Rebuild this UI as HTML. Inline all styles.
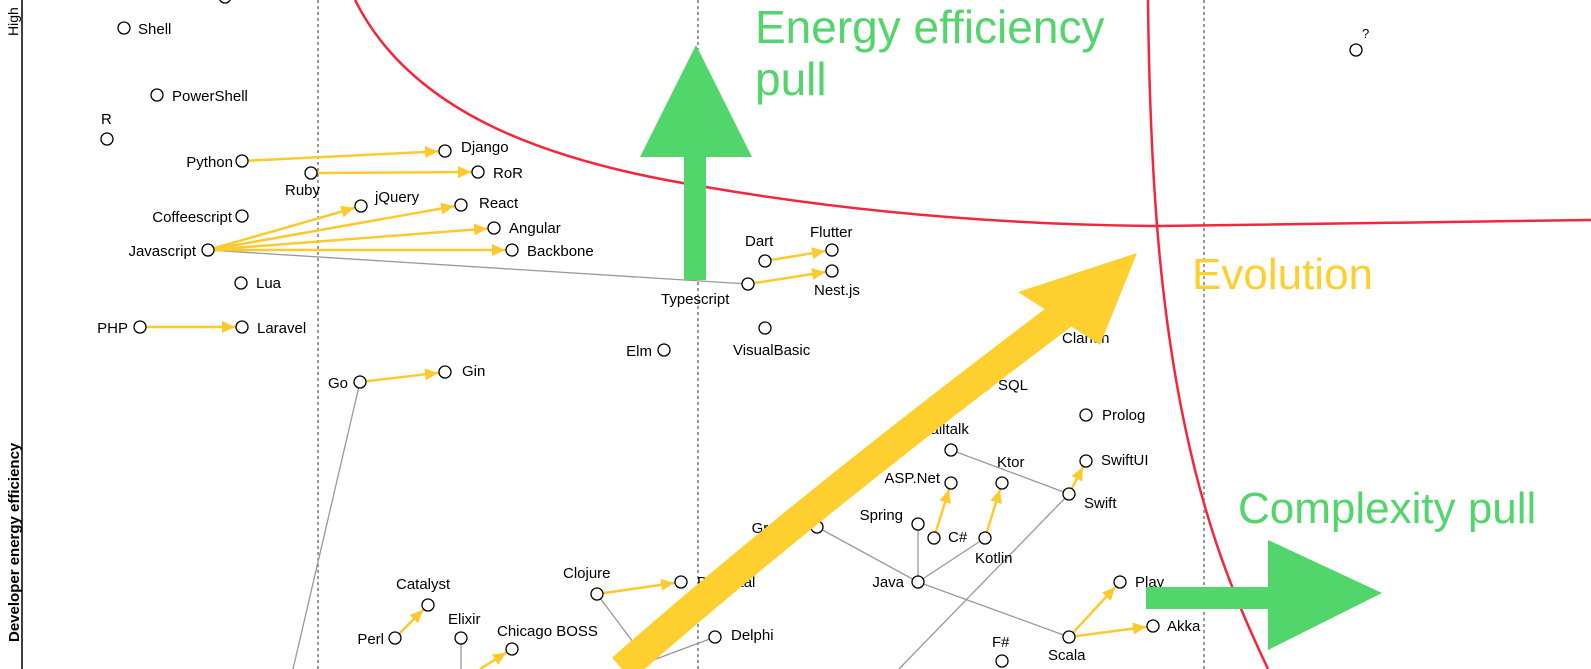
<!DOCTYPE html>
<html><head><meta charset="utf-8"><style>
html,body{margin:0;padding:0;background:#fff;}
svg{display:block;font-family:"Liberation Sans",Arial,sans-serif;}
</style></head><body>
<svg width="1591" height="669" viewBox="0 0 1591 669" xmlns="http://www.w3.org/2000/svg">
<defs>
<marker id="ah" markerUnits="userSpaceOnUse" markerWidth="30" markerHeight="14" refX="20" refY="6" orient="auto">
<path d="M0,0 L13,6 L0,12 z" fill="#fcca2f"/>
</marker>
</defs>
<line x1="22" y1="0" x2="22" y2="669" stroke="#000" stroke-width="1.5"/>
<text transform="translate(18,36) rotate(-90)" font-size="14">High</text>
<text transform="translate(19,642) rotate(-90)" font-size="15" font-weight="bold">Developer energy efficiency</text>
<g stroke="#333" stroke-width="1" stroke-dasharray="3,3">
<line x1="318" y1="0" x2="318" y2="669"/>
<line x1="698" y1="0" x2="698" y2="669"/>
<line x1="1204" y1="0" x2="1204" y2="669"/>
</g>
<g fill="none" stroke="#f4263b" stroke-width="2.5">
<path d="M355,0 C410,110 540,160 700,186 C850,212 1000,225 1160,226 L1591,220"/>
<path d="M1148,0 C1150,180 1160,330 1195,470 C1215,550 1240,610 1268,669"/>
</g>
<g stroke="#999" stroke-width="1.3" fill="none">
<line x1="208" y1="250" x2="748" y2="284"/>
<line x1="360" y1="382" x2="293" y2="669"/>
<line x1="951" y1="450" x2="1069" y2="494"/>
<line x1="1069" y1="494" x2="899" y2="669"/>
<line x1="817" y1="527" x2="918" y2="582"/>
<line x1="918" y1="524" x2="918" y2="582"/>
<line x1="918" y1="582" x2="985" y2="538"/>
<line x1="918" y1="582" x2="1069" y2="637"/>
<line x1="597" y1="594" x2="648" y2="662"/>
<line x1="648" y1="662" x2="715" y2="637"/>
<line x1="461" y1="638" x2="461" y2="669"/>
</g>
<g stroke="#fcca2f" stroke-width="2.5" marker-end="url(#ah)">
<line x1="242" y1="161" x2="445" y2="151"/>
<line x1="311" y1="173" x2="478" y2="172"/>
<line x1="208" y1="250" x2="361" y2="206"/>
<line x1="208" y1="250" x2="461" y2="205"/>
<line x1="208" y1="250" x2="494" y2="228"/>
<line x1="208" y1="250" x2="512" y2="250"/>
<line x1="140" y1="327" x2="242" y2="327"/>
<line x1="360" y1="382" x2="445" y2="372"/>
<line x1="765" y1="261" x2="832" y2="250"/>
<line x1="748" y1="284" x2="832" y2="271"/>
<line x1="597" y1="594" x2="681" y2="582"/>
<line x1="395" y1="638" x2="428" y2="605"/>
<line x1="480" y1="669" x2="512" y2="649"/>
<line x1="934" y1="538" x2="951" y2="483"/>
<line x1="985" y1="538" x2="1002" y2="483"/>
<line x1="1069" y1="494" x2="1086" y2="461"/>
<line x1="1069" y1="637" x2="1120" y2="582"/>
<line x1="1069" y1="637" x2="1153" y2="626"/>
</g>
<g fill="#fff" stroke="#000" stroke-width="1.3">
<circle cx="225" cy="-3" r="6"/>
<circle cx="124" cy="28" r="6"/>
<circle cx="157" cy="95" r="6"/>
<circle cx="107" cy="139" r="6"/>
<circle cx="242" cy="161" r="6"/>
<circle cx="445" cy="151" r="6"/>
<circle cx="311" cy="173" r="6"/>
<circle cx="478" cy="172" r="6"/>
<circle cx="361" cy="206" r="6"/>
<circle cx="461" cy="205" r="6"/>
<circle cx="494" cy="228" r="6"/>
<circle cx="512" cy="250" r="6"/>
<circle cx="242" cy="216" r="6"/>
<circle cx="208" cy="250" r="6"/>
<circle cx="241" cy="283" r="6"/>
<circle cx="140" cy="327" r="6"/>
<circle cx="242" cy="327" r="6"/>
<circle cx="360" cy="382" r="6"/>
<circle cx="445" cy="372" r="6"/>
<circle cx="748" cy="284" r="6"/>
<circle cx="765" cy="261" r="6"/>
<circle cx="832" cy="250" r="6"/>
<circle cx="832" cy="271" r="6"/>
<circle cx="664" cy="350" r="6"/>
<circle cx="765" cy="328" r="6"/>
<circle cx="985" cy="384" r="6"/>
<circle cx="1086" cy="415" r="6"/>
<circle cx="951" cy="450" r="6"/>
<circle cx="1086" cy="461" r="6"/>
<circle cx="1002" cy="483" r="6"/>
<circle cx="951" cy="483" r="6"/>
<circle cx="1069" cy="494" r="6"/>
<circle cx="918" cy="524" r="6"/>
<circle cx="934" cy="538" r="6"/>
<circle cx="985" cy="538" r="6"/>
<circle cx="817" cy="527" r="6"/>
<circle cx="918" cy="582" r="6"/>
<circle cx="597" cy="594" r="6"/>
<circle cx="681" cy="582" r="6"/>
<circle cx="428" cy="605" r="6"/>
<circle cx="395" cy="638" r="6"/>
<circle cx="461" cy="638" r="6"/>
<circle cx="512" cy="649" r="6"/>
<circle cx="715" cy="637" r="6"/>
<circle cx="1002" cy="661" r="6"/>
<circle cx="1069" cy="637" r="6"/>
<circle cx="1120" cy="582" r="6"/>
<circle cx="1153" cy="626" r="6"/>
<circle cx="1356" cy="50" r="6"/>
</g>
<g font-size="15" fill="#000">
<text x="138" y="34">Shell</text>
<text x="172" y="101">PowerShell</text>
<text x="101" y="124">R</text>
<text x="233" y="167" text-anchor="end">Python</text>
<text x="461" y="152">Django</text>
<text x="285" y="195">Ruby</text>
<text x="493" y="178">RoR</text>
<text x="375" y="202">jQuery</text>
<text x="479" y="208">React</text>
<text x="509" y="233">Angular</text>
<text x="527" y="256">Backbone</text>
<text x="232" y="222" text-anchor="end">Coffeescript</text>
<text x="196" y="256" text-anchor="end">Javascript</text>
<text x="256" y="288">Lua</text>
<text x="128" y="333" text-anchor="end">PHP</text>
<text x="257" y="333">Laravel</text>
<text x="348" y="388" text-anchor="end">Go</text>
<text x="462" y="376">Gin</text>
<text x="661" y="304">Typescript</text>
<text x="745" y="246">Dart</text>
<text x="810" y="237">Flutter</text>
<text x="814" y="295">Nest.js</text>
<text x="652" y="356" text-anchor="end">Elm</text>
<text x="733" y="355">VisualBasic</text>
<text x="1062" y="343">Clarion</text>
<text x="998" y="390">SQL</text>
<text x="1102" y="420">Prolog</text>
<text x="908" y="434">Smalltalk</text>
<text x="1101" y="465">SwiftUI</text>
<text x="997" y="467">Ktor</text>
<text x="940" y="483" text-anchor="end">ASP.Net</text>
<text x="1084" y="508">Swift</text>
<text x="903" y="520" text-anchor="end">Spring</text>
<text x="948" y="542">C#</text>
<text x="975" y="563">Kotlin</text>
<text x="800" y="533" text-anchor="end">Groovy</text>
<text x="904" y="587" text-anchor="end">Java</text>
<text x="563" y="578">Clojure</text>
<text x="697" y="587">Pedestal</text>
<text x="396" y="589">Catalyst</text>
<text x="384" y="644" text-anchor="end">Perl</text>
<text x="448" y="624">Elixir</text>
<text x="497" y="636">Chicago BOSS</text>
<text x="731" y="640">Delphi</text>
<text x="992" y="647">F#</text>
<text x="1048" y="660">Scala</text>
<text x="1135" y="587">Play</text>
<text x="1167" y="631">Akka</text>
<text x="1362" y="38" font-size="13">?</text>
</g>
<path d="M622,669 Q800,512 1075,305" fill="none" stroke="#fdd02f" stroke-width="30"/>
<polygon points="1137,253 1018,292 1100,345" fill="#fdd02f"/>
<text x="1192" y="289" font-size="44" fill="#fdd02f">Evolution</text>
<rect x="684" y="156" width="22" height="124" fill="#52d56a"/>
<polygon points="640,157 752,157 696,45" fill="#52d56a"/>
<text x="755" y="43" font-size="46" fill="#52d56a">Energy efficiency</text>
<text x="755" y="95" font-size="46" fill="#52d56a">pull</text>
<rect x="1146" y="587" width="124" height="22" fill="#52d56a"/>
<polygon points="1268,540 1268,650 1382,593" fill="#52d56a"/>
<text x="1238" y="523" font-size="44" fill="#52d56a">Complexity pull</text>
</svg>
</body></html>
